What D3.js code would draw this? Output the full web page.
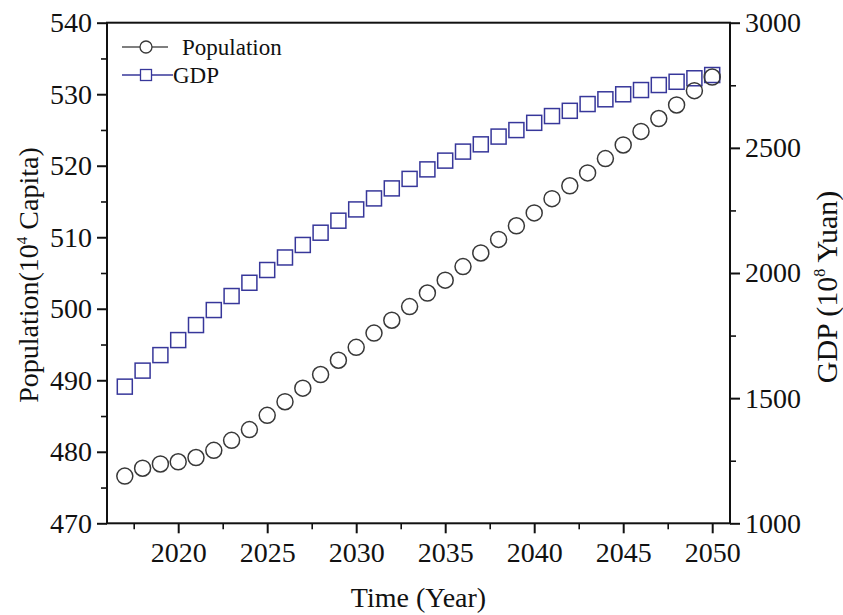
<!DOCTYPE html>
<html>
<head>
<meta charset="utf-8">
<script src="https://cdn.jsdelivr.net/npm/d3@7"></script>
<style>
  html, body { margin: 0; padding: 0; background: #fff; }
  svg { display: block; }
  text { font-family: "Liberation Serif", "Times New Roman", serif; fill: #111; }
</style>
</head>
<body>
<svg id="chart" width="843" height="615"></svg>
<script>
// Projection years
const years = [2017, 2018, 2019, 2020, 2021, 2022, 2023, 2024, 2025, 2026, 2027, 2028,
  2029, 2030, 2031, 2032, 2033, 2034, 2035, 2036, 2037, 2038, 2039, 2040, 2041, 2042,
  2043, 2044, 2045, 2046, 2047, 2048, 2049, 2050];

// Population (10^4 capita)
const population = [476.6, 477.7, 478.3, 478.6, 479.2, 480.2, 481.6, 483.1, 485.1, 487.0,
  488.9, 490.8, 492.8, 494.6, 496.6, 498.4, 500.3, 502.2, 504.0, 505.9, 507.8, 509.7,
  511.6, 513.4, 515.4, 517.2, 519.0, 521.0, 522.9, 524.8, 526.6, 528.5, 530.5, 532.4];

// GDP (10^8 yuan)
const gdp = [1546, 1610, 1672, 1732, 1792, 1852, 1908, 1961, 2012, 2062, 2112, 2161,
  2209, 2254, 2298, 2338, 2376, 2414, 2449, 2485, 2514, 2545, 2571, 2600, 2627, 2648,
  2675, 2694, 2714, 2731, 2751, 2764, 2778, 2791];

// Axis ticks
const xMajor = [2020, 2025, 2030, 2035, 2040, 2045, 2050];
const xMinor = [2017.5, 2022.5, 2027.5, 2032.5, 2037.5, 2042.5, 2047.5];
const popMajor = [470, 480, 490, 500, 510, 520, 530, 540];
const popMinor = [475, 485, 495, 505, 515, 525, 535];
const gdpMajor = [1000, 1500, 2000, 2500, 3000];
const gdpMinor = [1250, 1750, 2250, 2750];

const svg = d3.select("#chart");
const L = 107, R = 730, T = 22.7, B = 523.3;

const x = d3.scaleLinear().domain([2016, 2051]).range([L, R]);
const yPop = d3.scaleLinear().domain([470, 540]).range([B, T]);
const yGdp = d3.scaleLinear().domain([1000, 3000]).range([B, T]);

const tickFont = 28;

function styleAxis(g, width) {
  g.select(".domain").remove();
  g.selectAll(".tick line").attr("stroke", "#111").attr("stroke-width", width);
  g.selectAll(".tick text").style("font-size", tickFont + "px")
    .style("font-family", '"Liberation Serif", "Times New Roman", serif').attr("fill", "#111");
}

// Bottom axis
svg.append("g").attr("transform", `translate(0,${B})`)
  .call(d3.axisBottom(x).tickValues(xMinor).tickSize(6).tickFormat(""))
  .call(g => styleAxis(g, 1.6));
svg.append("g").attr("transform", `translate(0,${B})`)
  .call(d3.axisBottom(x).tickValues(xMajor).tickSize(10).tickPadding(9).tickFormat(d3.format("d")))
  .call(g => styleAxis(g, 2));

// Left axis
svg.append("g").attr("transform", `translate(${L},0)`)
  .call(d3.axisLeft(yPop).tickValues(popMinor).tickSize(6).tickFormat(""))
  .call(g => styleAxis(g, 1.6));
svg.append("g").attr("transform", `translate(${L},0)`)
  .call(d3.axisLeft(yPop).tickValues(popMajor).tickSize(10).tickPadding(5).tickFormat(d3.format("d")))
  .call(g => styleAxis(g, 2));

// Right axis
svg.append("g").attr("transform", `translate(${R},0)`)
  .call(d3.axisRight(yGdp).tickValues(gdpMinor).tickSize(6).tickFormat(""))
  .call(g => styleAxis(g, 1.6));
svg.append("g").attr("transform", `translate(${R},0)`)
  .call(d3.axisRight(yGdp).tickValues(gdpMajor).tickSize(10).tickPadding(5).tickFormat(d3.format("d")))
  .call(g => styleAxis(g, 2));

// Frame
svg.append("rect").attr("x", L).attr("y", T).attr("width", R - L).attr("height", B - T)
  .attr("fill", "none").attr("stroke", "#111").attr("stroke-width", 2);

// Axis titles
svg.append("text").attr("x", (L + R) / 2).attr("y", 607).attr("text-anchor", "middle")
  .style("font-size", "28px").text("Time (Year)");

const popTitle = svg.append("text")
  .attr("transform", `translate(38,${(T + B) / 2 + 2}) rotate(-90)`)
  .attr("text-anchor", "middle").style("font-size", "28px");
popTitle.append("tspan").text("Population(10");
popTitle.append("tspan").attr("dy", -11).style("font-size", "15px").text("4");
popTitle.append("tspan").attr("dy", 11).text(" Capita)");

const gdpTitle = svg.append("text")
  .attr("transform", `translate(837,${(T + B) / 2 + 14}) rotate(-90)`)
  .attr("text-anchor", "middle").style("font-size", "30px");
gdpTitle.append("tspan").text("GDP (10");
gdpTitle.append("tspan").attr("dy", -12).style("font-size", "16px").text("8");
gdpTitle.append("tspan").attr("dy", 12).text(" Yuan)");

// Series marks
const popColor = "#383838";
const gdpColor = "#37379a";

svg.append("g").selectAll("rect").data(years).join("rect")
  .attr("x", d => x(d) - 7.5).attr("y", (d, i) => yGdp(gdp[i]) - 7.5)
  .attr("width", 15).attr("height", 15)
  .attr("fill", "none").attr("stroke", gdpColor).attr("stroke-width", 1.5);

svg.append("g").selectAll("circle").data(years).join("circle")
  .attr("cx", d => x(d)).attr("cy", (d, i) => yPop(population[i])).attr("r", 8)
  .attr("fill", "none").attr("stroke", popColor).attr("stroke-width", 1.5);

// Legend
const lg = svg.append("g");
lg.append("line").attr("x1", 122).attr("x2", 168).attr("y1", 47).attr("y2", 47)
  .attr("stroke", "#555").attr("stroke-width", 1.5);
lg.append("circle").attr("cx", 146).attr("cy", 47).attr("r", 6)
  .attr("fill", "#fff").attr("stroke", popColor).attr("stroke-width", 1.3);
lg.append("text").attr("x", 182).attr("y", 55).style("font-size", "23px").text("Population");

lg.append("line").attr("x1", 122).attr("x2", 173).attr("y1", 75).attr("y2", 75)
  .attr("stroke", gdpColor).attr("stroke-width", 1.5);
lg.append("rect").attr("x", 140.5).attr("y", 69.5).attr("width", 11).attr("height", 11)
  .attr("fill", "#fff").attr("stroke", gdpColor).attr("stroke-width", 1.3);
lg.append("text").attr("x", 173).attr("y", 83).style("font-size", "23px").text("GDP");
</script>
</body>
</html>
